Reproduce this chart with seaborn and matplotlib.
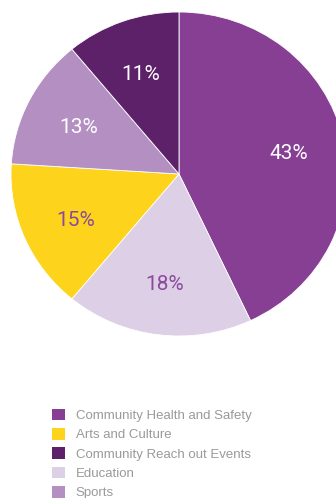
import matplotlib
matplotlib.use("Agg")
import matplotlib.pyplot as plt
import matplotlib.patches as mpatches
import matplotlib.transforms as mtransforms
import seaborn as sns

# Share of activities by category (percent), in drawing order clockwise from 12 o'clock
categories = ["Community Health and Safety", "Education", "Arts and Culture",
              "Sports", "Community Reach out Events"]
shares = [43, 18, 15, 13, 11]
colors = ["#873F94", "#DCCFE6", "#FDD31B", "#B490C2", "#5C2169"]
label_colors = ["white", "#8B4A9B", "#8B4A9B", "white", "white"]

# Order of the entries in the key
legend_order = ["Community Health and Safety", "Arts and Culture",
                "Community Reach out Events", "Education", "Sports"]

sns.set_theme(style="white")
plt.rcParams["font.family"] = ["Liberation Sans", "DejaVu Sans"]

W, H = 336, 498
fig = plt.figure(figsize=(W / 100, H / 100), dpi=100)
fig.patch.set_facecolor("white")

# Pie axes: center at (179, 174) px from top, radii 168 x 162 px
cx, cy, rx, ry = 179, 174, 168, 162
ax = fig.add_axes([(cx - rx) / W, (H - cy - ry) / H, 2 * rx / W, 2 * ry / H])

wedges, texts, autotexts = ax.pie(
    shares, colors=colors, startangle=90, counterclock=False,
    autopct=lambda p: f"{p:.0f}%", pctdistance=0.67,
    wedgeprops=dict(linewidth=0.6, edgecolor="white"),
    textprops=dict(fontsize=15, family=["Roboto", "DejaVu Sans"]),
)
# nudge the percentage labels down slightly so the digits sit centred in the slice
shift = mtransforms.ScaledTranslation(0, -3 / 100, fig.dpi_scale_trans)
for t, c in zip(autotexts, label_colors):
    t.set_color(c)
    t.set_transform(t.get_transform() + shift)
ax.set_aspect("auto")
ax.set_xlim(-1, 1)
ax.set_ylim(-1, 1)
ax.axis("off")

color_of = dict(zip(categories, colors))
handles = [mpatches.Patch(facecolor=color_of[name], edgecolor="none", label=name)
           for name in legend_order]
leg = fig.legend(
    handles=handles, loc="upper left",
    bbox_to_anchor=(52 / W, (H - 408.5) / H), bbox_transform=fig.transFigure,
    frameon=False, fontsize=9.5, handlelength=1.0, handleheight=1.0,
    handletextpad=0.8, labelspacing=0.45, borderpad=0, borderaxespad=0,
)
for t in leg.get_texts():
    t.set_color("#9A9A9A")

fig.savefig("out.png", dpi=100, facecolor="white")
